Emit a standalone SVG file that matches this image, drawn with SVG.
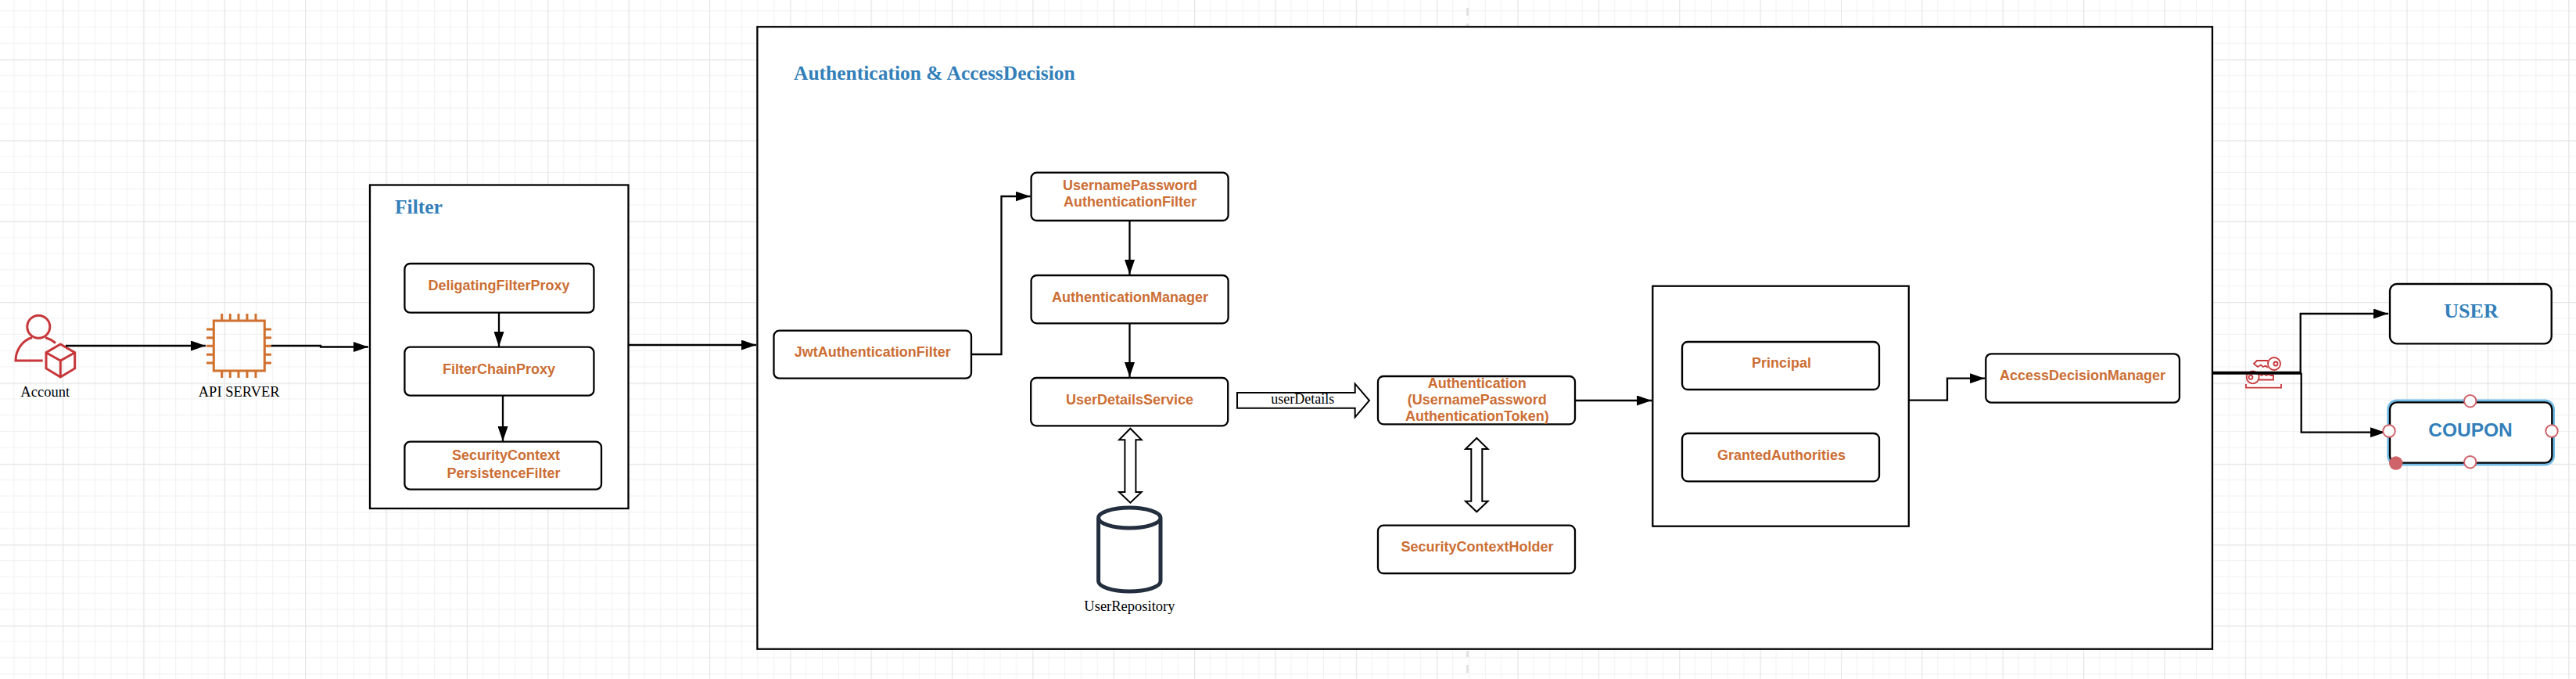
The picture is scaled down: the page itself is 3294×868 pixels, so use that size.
<svg xmlns="http://www.w3.org/2000/svg" width="3294" height="868" viewBox="0 0 3294 868">
<defs>
<pattern id="grid" patternUnits="userSpaceOnUse" x="80" y="76" width="103.36" height="103.36">
<path d="M20.67 0V103.36M41.34 0V103.36M62.02 0V103.36M82.69 0V103.36M0 20.67H103.36M0 41.34H103.36M0 62.02H103.36M0 82.69H103.36" fill="none" stroke="#f1f1f1" stroke-width="1"/>
<path d="M0.6 0V103.36M0 0.6H103.36" fill="none" stroke="#e4e4e4" stroke-width="1.2"/>
</pattern>
<marker id="arrow" markerUnits="userSpaceOnUse" markerWidth="19" markerHeight="13" refX="19" refY="6.5" orient="auto">
<path d="M0 0L19 6.5L0 13Z" fill="#000"/>
</marker>
</defs>
<style>
.box{fill:#fff;stroke:#000;stroke-width:2.3}
.node{fill:#fff;stroke:#000;stroke-width:2.3}
.lbl{font-family:"Liberation Sans",Arial,sans-serif;font-weight:700;font-size:18px;fill:#cc6e34;text-anchor:middle}
.cap{font-family:"Liberation Serif","Times New Roman",serif;font-size:18.5px;fill:#000;text-anchor:middle}
.title{font-family:"Liberation Serif","Times New Roman",serif;font-weight:700;font-size:25.5px;fill:#337fb9}
.conn{fill:none;stroke:#000;stroke-width:2.3;marker-end:url(#arrow)}
.hollow{fill:#fff;stroke:#000;stroke-width:2;stroke-linejoin:miter}
.red{fill:none;stroke:#c7373a;stroke-width:3}
.red2{fill:none;stroke:#c7373a;stroke-width:1.8}
.org{fill:none;stroke:#d0712f;stroke-width:3}
.hdl{fill:#fff;stroke:#cf636a;stroke-width:2}
.dash{stroke:#e2e2e2;stroke-width:3;fill:none}
</style>
<rect width="3294" height="868" fill="#fff"/>
<rect width="3294" height="868" fill="url(#grid)"/>
<path class="dash" d="M1876.5 10V20M1876.5 30V34M1876.5 832V840M1876.5 850V860"/>

<g id="account">
<circle class="red" cx="49.3" cy="417.7" r="14.5"/>
<path class="red" d="M54.7 461H20C20 447 29 435 41 431.5M58 431.5C63 433 67 435 71 438.5"/>
<path class="red" d="M77.3 440L95.7 450.7V471L77.3 482L59 471V450.7ZM59 450.7L77.3 461L95.7 450.7M77.3 461V482"/>
<text class="cap" x="57.7" y="507.3">Account</text>
</g>
<g id="api-server">
<rect class="org" x="273.3" y="410" width="65" height="64"/>
<path class="org" d="M283.7 401V410M294.3 401V410M305 401V410M316 401V410M327 401V410M283.7 474V483M294.3 474V483M305 474V483M316 474V483M327 474V483M264 421H273M264 431.7H273M264 442.3H273M264 453.3H273M264 464H273M338 421H347M338 431.7H347M338 442.3H347M338 453.3H347M338 464H347"/>
<text class="cap" x="305.7" y="507.3">API SERVER</text>
</g>
<g id="filter">
<rect class="box" x="473" y="236.5" width="330.5" height="413.5"/>
<text class="title" x="505" y="273">Filter</text>
</g>
<g id="deligating-filter-proxy">
<rect class="node" x="517.4" y="337" width="242" height="62.7" rx="7"/>
<text class="lbl" x="638" y="370.5">DeligatingFilterProxy</text>
</g>
<g id="filter-chain-proxy">
<rect class="node" x="517.4" y="443.7" width="242" height="62" rx="7"/>
<text class="lbl" x="638" y="478">FilterChainProxy</text>
</g>
<g id="security-context-persistence-filter">
<rect class="node" x="517.4" y="564.7" width="251.6" height="61" rx="7"/>
<text class="lbl" x="647" y="588">SecurityContext</text>
<text class="lbl" x="644" y="611">PersistenceFilter</text>
</g>
<g id="auth-access-decision">
<rect class="box" x="968.4" y="34.3" width="1860.6" height="795.4"/>
<text class="title" x="1015" y="101.7">Authentication &amp; AccessDecision</text>
</g>
<g id="jwt-authentication-filter">
<rect class="node" x="989.5" y="422.7" width="252.5" height="61" rx="7"/>
<text class="lbl" x="1115.8" y="456.3">JwtAuthenticationFilter</text>
</g>
<g id="username-password-authentication-filter">
<rect class="node" x="1318.6" y="220.7" width="252" height="61.3" rx="7"/>
<text class="lbl" x="1445" y="243.3">UsernamePassword</text>
<text class="lbl" x="1445" y="264">AuthenticationFilter</text>
</g>
<g id="authentication-manager">
<rect class="node" x="1318.6" y="352" width="252" height="61.3" rx="7"/>
<text class="lbl" x="1445" y="386.3">AuthenticationManager</text>
</g>
<g id="user-details-service">
<rect class="node" x="1318.2" y="483" width="252" height="61.3" rx="7"/>
<text class="lbl" x="1444.5" y="517.3">UserDetailsService</text>
</g>
<g id="user-repository">
<path d="M1404.6 662V743C1404.6 750 1422 756 1444.3 756S1484 750 1484 743V662C1484 655 1466 649 1444.3 649S1404.6 655 1404.6 662C1404.6 669 1422 675 1444.3 675S1484 669 1484 662" fill="#fff" stroke="#232f3e" stroke-width="5"/>
<text class="cap" x="1444.4" y="781">UserRepository</text>
</g>
<g id="authentication-token">
<rect class="node" x="1762" y="481" width="252" height="61.3" rx="7"/>
<text class="lbl" x="1888.8" y="495.7">Authentication</text>
<text class="lbl" x="1888.8" y="517.3">(UsernamePassword</text>
<text class="lbl" x="1888.8" y="538.3">AuthenticationToken)</text>
</g>
<g id="security-context-holder">
<rect class="node" x="1762" y="671.7" width="252" height="61.3" rx="7"/>
<text class="lbl" x="1889" y="705">SecurityContextHolder</text>
</g>
<g id="principal-box">
<rect class="box" x="2113.3" y="365.7" width="327.5" height="307"/>
</g>
<g id="principal">
<rect class="node" x="2151" y="437" width="252" height="61" rx="7"/>
<text class="lbl" x="2278" y="470.3">Principal</text>
</g>
<g id="granted-authorities">
<rect class="node" x="2151" y="554" width="252" height="61.3" rx="7"/>
<text class="lbl" x="2278" y="588.3">GrantedAuthorities</text>
</g>
<g id="access-decision-manager">
<rect class="node" x="2539.3" y="452.3" width="247.7" height="62.4" rx="7"/>
<text class="lbl" x="2663" y="486.3">AccessDecisionManager</text>
</g>
<g id="user">
<rect class="node" x="3056" y="363" width="206.7" height="76.3" rx="9"/>
<text x="3160" y="405.5" text-anchor="middle" style="font-family:'Liberation Serif','Times New Roman',serif;font-weight:700;font-size:26px;fill:#337fb9">USER</text>
</g>
<g id="keys">
<circle class="red2" cx="2908" cy="465" r="8"/>
<circle class="red2" cx="2910" cy="465" r="2.5"/>
<path class="red2" d="M2900 461H2886L2882 465L2887 469L2891 466.5L2894 469L2897 467.5L2900 470"/>
<circle class="red2" cx="2880.7" cy="482.3" r="8"/>
<circle class="red2" cx="2878" cy="482.3" r="2.5"/>
<path class="red2" d="M2889 478.5L2892 480L2895 478L2898 480L2901 478.5L2904 480H2907L2907 485.5H2889"/>
<path class="red2" d="M2872 491V495.7H2917V491"/>
</g>

<g id="connectors">
<path class="conn" d="M84 442H263"/>
<path class="conn" d="M347 442H410V443.5H471"/>
<path class="conn" d="M638 399.7V443"/>
<path class="conn" d="M643 505.7V564"/>
<path class="conn" d="M803.5 441H967"/>
<path class="conn" d="M1242 453H1280.5V251H1317.5"/>
<path class="conn" d="M1444.5 282V351"/>
<path class="conn" d="M1444.5 413.3V482"/>
<path class="conn" d="M2014 512H2112"/>
<path class="conn" d="M2441 511.7H2490V483.7H2538"/>
<path fill="none" stroke="#000" stroke-width="4" d="M2829 476.7H2942.7"/>
<path class="conn" d="M2941.7 476.7V401H3054"/>
<path class="conn" d="M2942.7 476.7V552.7H3050"/>
<path class="hollow" d="M1582 502H1732.7V490.7L1751 512L1732.7 533.3V521.7H1582Z"/>
<text class="cap" x="1665.8" y="515.7" style="font-size:18px">userDetails</text>
<path class="hollow" d="M1445.4 547.7L1459.7 562.3H1452.4V629H1459.7L1445.4 642.7L1431.1 629H1438.4V562.3H1431.1Z"/>
<path class="hollow" d="M1888.3 560L1902.6 574H1895.3V640.7H1902.6L1888.3 654.3L1874 640.7H1881.3V574H1874Z"/>
</g>

<g id="coupon">
<rect x="3056" y="514.3" width="207.3" height="77.4" rx="9" fill="none" stroke="#74bce8" stroke-width="7.5"/>
<rect class="node" x="3056" y="514.3" width="207.3" height="77.4" rx="9"/>
<text x="3159" y="558" text-anchor="middle" style="font-family:'Liberation Sans',Arial,sans-serif;font-weight:700;font-size:24.5px;fill:#337fb9">COUPON</text>
<circle class="hdl" cx="3158.7" cy="512.7" r="7.7"/>
<circle class="hdl" cx="3055" cy="551" r="7.7"/>
<circle class="hdl" cx="3263" cy="551" r="7.7"/>
<circle class="hdl" cx="3158.7" cy="590.7" r="7.7"/>
<circle cx="3063.7" cy="592" r="8.7" fill="#cf636a"/>
</g>
</svg>
